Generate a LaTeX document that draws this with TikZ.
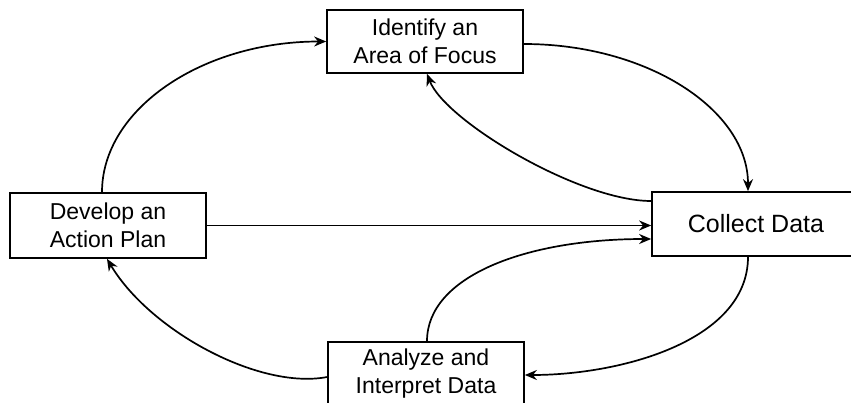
\documentclass[tikz,border=0pt]{standalone}
\usepackage{fontspec}
\setmainfont{Liberation Sans}
\usetikzlibrary{arrows.meta,calc}
\begin{document}
\begin{tikzpicture}[x=1pt,y=-1pt,
 box/.style={draw,line width=1.7pt,minimum width=196pt,minimum height=63pt,align=center,font=\fontsize{23}{28}\selectfont,inner sep=0pt},
 arr/.style={line width=1.7pt,-{Stealth[length=12pt,width=10pt]}}]
\useasboundingbox (0,0) rectangle (851,403);
\node[box] (idf) at (425,41.5) {Identify an\\Area of Focus};
\node[box,minimum height=65pt] (dev) at (108,225.5) {Develop an\\Action Plan};
\node[box,minimum width=208pt,minimum height=64pt,font=\fontsize{25}{30}\selectfont] (col) at (756,224) {Collect Data};
\node[box] (ana) at (426,373.5) {Analyze and\\Interpret Data};
\draw[arr] ($(dev.north)+(-6,0)$) .. controls +(0,-83) and +(-124,0) .. (idf.west);
\draw[arr] ($(idf.east)+(0,2.5)$) .. controls +(124,0) and +(0,-81) .. ($(col.north)+(-8,0)$);
\draw[arr] ($(col.west)+(0,-23)$) .. controls +(-72,0) and +(18,47) .. ($(idf.south)+(2,0)$);
\draw[arr] (dev.east) -- (dev.east -| col.west);
\draw[arr] ($(ana.north)+(1,0)$) .. controls +(0,-65) and +(-125,0) .. ($(col.west)+(0,15)$);
\draw[arr] ($(col.south)+(-8,0)$) .. controls +(0,84) and +(96,0) .. ($(ana.east)+(0,1.5)$);
\draw[arr] ($(ana.west)+(0,3.5)$) .. controls +(-68,13) and +(43,72) .. ($(dev.south)+(-1,0)$);
\end{tikzpicture}
\end{document}
